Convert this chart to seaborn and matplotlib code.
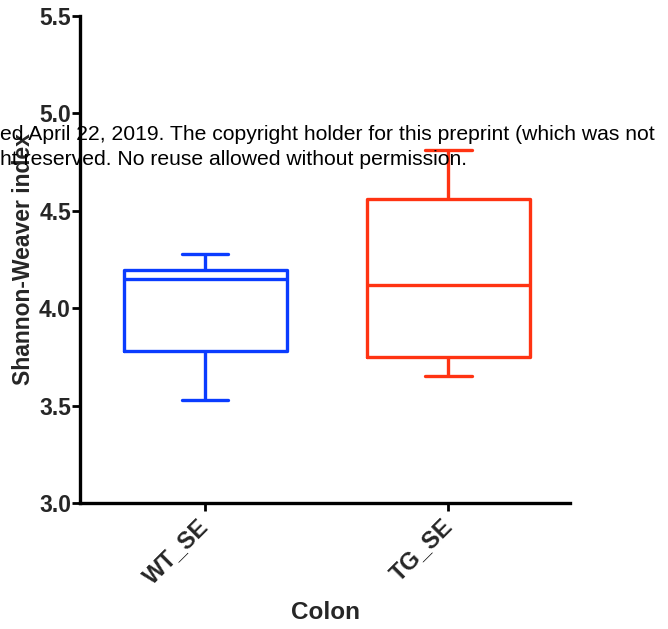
import matplotlib
matplotlib.use("Agg")
import matplotlib.pyplot as plt
import seaborn as sns
import pandas as pd

# ---- data ----
categories = ["WT_SE", "TG_SE"]
wt_values = [3.53, 3.78, 4.15, 4.195, 4.28]   # min, Q1, median, Q3, max
tg_values = [3.65, 3.75, 4.12, 4.56, 4.81]
box_colors = ["#0a3cff", "#ff3312"]
y_ticks = [3.0, 3.5, 4.0, 4.5, 5.0, 5.5]
watermark1 = "ed April 22, 2019. The copyright holder for this preprint (which was not"
watermark2 = "ht reserved. No reuse allowed without permission."

df = pd.DataFrame({
    "group": [categories[0]] * len(wt_values) + [categories[1]] * len(tg_values),
    "value": wt_values + tg_values,
})

sns.set_style("ticks")
plt.rcParams["font.family"] = ["Liberation Sans", "DejaVu Sans"]

fig = plt.figure(figsize=(6.68, 6.29), dpi=100)
ax = fig.add_axes([80 / 668, 1 - 503 / 629, 490 / 668, 487 / 629])

sns.boxplot(data=df, x="group", y="value", hue="group", order=categories,
            hue_order=categories, palette=box_colors, fill=False, width=0.67,
            whis=(0, 100), linewidth=2.4, legend=False, ax=ax,
            capwidths=0.19)

ax.set_xlim(-0.515, 1.50)
ax.set_ylim(3.0, 5.5)
ax.set_yticks(y_ticks)
ax.set_yticklabels([f"{t:.1f}" for t in y_ticks], fontsize=16.5, fontweight="bold")
ax.set_xticks(range(len(categories)))
ax.set_xticklabels(categories, fontsize=17, fontweight="bold", rotation=45,
                   ha="right", va="center", rotation_mode="anchor")
ax.set_xlabel("Colon", fontsize=17.5, fontweight="bold", labelpad=9)
ax.set_ylabel("Shannon-Weaver index", fontsize=16.5, fontweight="bold", labelpad=3)

for s in ["top", "right"]:
    ax.spines[s].set_visible(False)
for s in ["left", "bottom"]:
    ax.spines[s].set_linewidth(2.4)
    ax.spines[s].set_color("black")
ax.tick_params(axis="both", width=2.0, length=6, color="black")
ax.tick_params(axis="y", pad=0.5)
ax.tick_params(axis="x", pad=8)

fig.text(0.0, 1 - 140 / 629, watermark1, fontsize=15.2, color="black", zorder=10)
fig.text(0.0, 1 - 165 / 629, watermark2, fontsize=15.2, color="black", zorder=10)

fig.savefig("out.png", dpi=100)
